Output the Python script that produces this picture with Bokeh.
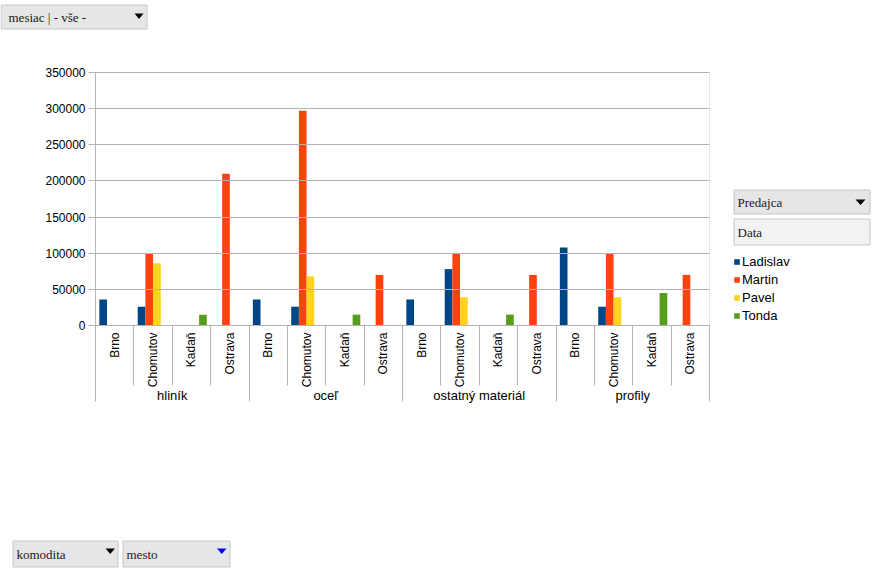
import math
from bokeh.plotting import figure
from bokeh.models import (Range1d, ColumnDataSource, Legend, LegendItem, LinearAxis,
                          BoxAnnotation, Label, PolyAnnotation, BasicTickFormatter,
                          SingleIntervalTicker, FixedTicker)
from bokeh.core.properties import value
from bokeh.embed import file_html
from bokeh.resources import INLINE

# ---------------- data ----------------
materials = ["hliník", "oceľ", "ostatný materiál", "profily"]
cities = ["Brno", "Chomutov", "Kadaň", "Ostrava"]
sellers = ["Ladislav", "Martin", "Pavel", "Tonda"]
colors = ["#004586", "#ff420e", "#ffd320", "#579d1c"]

# order: material x city (hliník: Brno, Chomutov, Kadaň, Ostrava, oceľ: ...)
ladislav = [36000, 26000, 0, 0, 36000, 26000, 0, 0, 36000, 78000, 0, 0, 108000, 26000, 0, 0]
martin = [0, 100000, 0, 210000, 0, 297000, 0, 70000, 0, 100000, 0, 70000, 0, 100000, 0, 70000]
pavel = [0, 86000, 0, 0, 0, 68000, 0, 0, 0, 39000, 0, 0, 0, 39000, 0, 0]
tonda = [0, 0, 15000, 0, 0, 0, 15000, 0, 0, 0, 15000, 0, 0, 0, 45000, 0]
series_values = [ladislav, martin, pavel, tonda]

y_max = 350000
y_step = 50000

filter_page = "mesiac | - vše -"
filter_series = "Predajca"
data_label = "Data"
row_fields = ["komodita", "mesto"]

# ---------------- layout (pixels) ----------------
CW, CH = 879, 569            # canvas
PL, PR, PT, PB = 95, 709, 72, 325   # plot area
SANS = "Liberation Sans"
SERIF = "Liberation Serif"
GRID = "#b3b3b3"

n_cat = len(materials) * len(cities)
ux = n_cat / (PR - PL)       # data units per px (x)
uy = y_max / (PB - PT)       # data units per px (y)

p = figure(width=CW, height=CH, output_backend="svg", toolbar_location=None,
           x_range=Range1d(-PL * ux, n_cat + (CW - PR) * ux),
           y_range=Range1d(-(CH - PB) * uy, y_max + PT * uy),
           x_axis_type=None, y_axis_type=None,
           min_border_left=0, min_border_right=0, min_border_top=0, min_border_bottom=0)
p.background_fill_color = "white"
p.border_fill_color = "white"
p.outline_line_color = None
p.grid.visible = False


def sy(py):  # page y -> screen units (from frame bottom, upwards)
    return CH - py


# ---------------- bars ----------------
n_ser = len(sellers)
bar_w = 0.8 / n_ser
centers = [i + 0.5 for i in range(n_cat)]
renderers = []
for k, (s, c, vals) in enumerate(zip(sellers, colors, series_values)):
    off = (k - (n_ser - 1) / 2) * bar_w
    src = ColumnDataSource(dict(x=[cx + off for cx in centers], top=vals))
    r = p.vbar(x="x", top="top", width=bar_w, source=src, fill_color=c, line_color=None)
    renderers.append(r)

# plot area outline
p.add_layout(BoxAnnotation(left=0, right=n_cat, bottom=0, top=y_max, fill_alpha=0,
                           line_color=GRID, line_width=1, level="underlay"))

# ---------------- y axis (ticks extended inwards = gridlines) ----------------
yax = LinearAxis(fixed_location=0, bounds=(0, y_max),
                 ticker=SingleIntervalTicker(interval=y_step),
                 formatter=BasicTickFormatter(use_scientific=False))
yax.axis_line_color = GRID
yax.major_tick_line_color = GRID
yax.major_tick_out = 7
yax.major_tick_in = PR - PL
yax.minor_tick_line_color = None
yax.major_label_text_font = SANS
yax.major_label_text_font_size = "12px"
yax.major_label_text_color = "black"
yax.major_label_standoff = 3
p.add_layout(yax, "left")

# ---------------- x axis: line + category separators ----------------
grp_b = [i for i in range(n_cat + 1) if i % len(cities) == 0]
sub_b = [i for i in range(n_cat + 1) if i % len(cities) != 0]
sax = LinearAxis(fixed_location=0, bounds=(0, n_cat),
                 ticker=FixedTicker(ticks=grp_b, minor_ticks=sub_b),
                 major_label_overrides={b: "" for b in grp_b})
sax.axis_line_color = GRID
sax.major_tick_line_color = GRID
sax.minor_tick_line_color = GRID
sax.major_tick_in = 0
sax.major_tick_out = 76
sax.minor_tick_in = 0
sax.minor_tick_out = 60
p.add_layout(sax, "below")

# city labels (rotated, reading upwards, hanging from the axis)
city_src = ColumnDataSource(dict(x=centers, y=[0] * n_cat,
                                 t=[cities[i % len(cities)] for i in range(n_cat)]))
p.text(x="x", y="y", text="t", source=city_src, angle=math.pi / 2, y_offset=7,
       text_align="right", text_baseline="middle", text_font=value(SANS),
       text_font_size="12px", text_color="black")

# ---------------- x axis: materials ----------------
grp_centers = [(g + 0.5) * len(cities) for g in range(len(materials))]
gax = LinearAxis(fixed_location=0, ticker=FixedTicker(ticks=grp_centers),
                 major_label_overrides={gc: m for gc, m in zip(grp_centers, materials)})
gax.axis_line_color = None
gax.major_tick_line_color = None
gax.minor_tick_line_color = None
gax.major_label_standoff = 56
gax.major_label_text_font = SANS
gax.major_label_text_font_size = "13px"
gax.major_label_text_color = "black"
p.add_layout(gax, "below")

# ---------------- legend ----------------
legend = Legend(items=[LegendItem(label=s, renderers=[r]) for s, r in zip(sellers, renderers)],
                location=(733, sy(323)), border_line_color=None, background_fill_alpha=0,
                label_text_font=SANS, label_text_font_size="13px", label_text_color="black",
                glyph_width=7, glyph_height=7, label_standoff=2, spacing=3, label_height=14,
                padding=0, margin=0)
p.add_layout(legend)


# ---------------- field buttons ----------------
def button(x0, y0, x1, y1, text, tx, fill="#e6e6e6", tri=None):
    p.add_layout(BoxAnnotation(left=x0 + 0.5, right=x1 - 0.5, top=sy(y0 + 0.5), bottom=sy(y1 - 0.5),
                               left_units="screen", right_units="screen",
                               top_units="screen", bottom_units="screen",
                               fill_color=fill, fill_alpha=1, line_color="#c6c6c6",
                               line_alpha=1, level="overlay"))
    p.add_layout(Label(x=tx, y=sy((y0 + y1) / 2), x_units="screen", y_units="screen",
                       text=text, text_font=SERIF, text_font_size="13px", text_color="#1a1a1a",
                       text_baseline="middle", text_align="left", level="overlay"))
    if tri is not None:
        tx0, tx1, ty0, ty1, col = tri
        p.add_layout(PolyAnnotation(xs=[tx0, tx1, (tx0 + tx1) / 2],
                                    ys=[sy(ty0), sy(ty0), sy(ty1)],
                                    xs_units="screen", ys_units="screen",
                                    fill_color=col, fill_alpha=1, line_color=None, level="overlay"))


button(0, 4, 147, 29, filter_page, 8, tri=(134, 143, 13, 18.5, "black"))
button(733, 189, 870, 214, filter_series, 737, tri=(855, 865, 199, 204.5, "black"))
button(733, 218, 870, 245, data_label, 737, fill="#f2f2f2")
button(12, 540, 118, 567, row_fields[0], 16, tri=(105, 114.5, 548, 553.5, "black"))
button(122, 540, 230, 567, row_fields[1], 126, tri=(216.5, 226, 548, 553.5, "#0000ff"))

open("out.html", "w").write(file_html(p, INLINE))
